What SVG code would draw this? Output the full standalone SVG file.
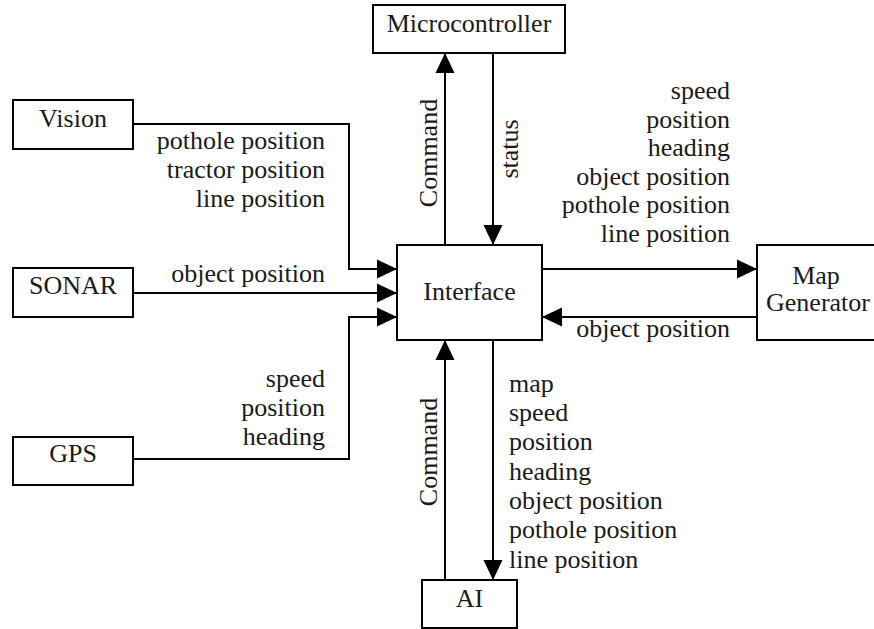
<svg xmlns="http://www.w3.org/2000/svg" width="874" height="629" viewBox="0 0 874 629">
<style>
.box{fill:#fff;stroke:#000;stroke-width:2}
.t{font-family:"Liberation Serif","Times New Roman",serif;font-size:26px;fill:#1a1a1a}
.m{text-anchor:middle}
.e{text-anchor:end}
.c{fill:none;stroke:#000;stroke-width:2}
</style>
<defs>
<marker id="ah" markerUnits="userSpaceOnUse" markerWidth="20" markerHeight="20" refX="20" refY="9.5" orient="auto" viewBox="0 0 20 19">
<path d="M0,0 L20,9.5 L0,19 z" fill="#000"/>
</marker>
</defs>
<rect width="874" height="629" fill="#fff"/>
<g id="connectors">
<path class="c" d="M445,245 V53" marker-end="url(#ah)"/>
<path class="c" d="M493,53 V245" marker-end="url(#ah)"/>
<path class="c" d="M133,124 H349 V269 H397" marker-end="url(#ah)"/>
<path class="c" d="M133,293 H397" marker-end="url(#ah)"/>
<path class="c" d="M133,459 H349 V317 H397" marker-end="url(#ah)"/>
<path class="c" d="M542,269 H757" marker-end="url(#ah)"/>
<path class="c" d="M757,317 H542" marker-end="url(#ah)"/>
<path class="c" d="M445,580 V340" marker-end="url(#ah)"/>
<path class="c" d="M493,340 V580" marker-end="url(#ah)"/>
<text class="t m" transform="translate(437,153) rotate(-90)">Command</text>
<text class="t m" transform="translate(518,149) rotate(-90)">status</text>
<text class="t m" transform="translate(437,452) rotate(-90)">Command</text>
<text class="t e" x="325" y="149">pothole position</text>
<text class="t e" x="325" y="178">tractor position</text>
<text class="t e" x="325" y="207">line position</text>
<text class="t e" x="325" y="282">object position</text>
<text class="t e" x="325" y="387">speed</text>
<text class="t e" x="325" y="416">position</text>
<text class="t e" x="325" y="445">heading</text>
<text class="t e" x="730" y="99">speed</text>
<text class="t e" x="730" y="128">position</text>
<text class="t e" x="730" y="156">heading</text>
<text class="t e" x="730" y="185">object position</text>
<text class="t e" x="730" y="213">pothole position</text>
<text class="t e" x="730" y="242">line position</text>
<text class="t e" x="730" y="337">object position</text>
<text class="t" x="509" y="392">map</text>
<text class="t" x="509" y="421">speed</text>
<text class="t" x="509" y="450">position</text>
<text class="t" x="509" y="480">heading</text>
<text class="t" x="509" y="509">object position</text>
<text class="t" x="509" y="538">pothole position</text>
<text class="t" x="509" y="568">line position</text>
</g>
<g id="microcontroller">
<rect class="box" x="373" y="5" width="192" height="48"/>
<text class="t m" x="469" y="32">Microcontroller</text>
</g>
<g id="vision">
<rect class="box" x="13" y="100" width="120" height="49"/>
<text class="t m" x="73" y="127">Vision</text>
</g>
<g id="sonar">
<rect class="box" x="13" y="268" width="120" height="49"/>
<text class="t m" x="73" y="294">SONAR</text>
</g>
<g id="gps">
<rect class="box" x="13" y="437" width="120" height="48"/>
<text class="t m" x="73" y="462">GPS</text>
</g>
<g id="interface">
<rect class="box" x="397" y="245" width="145" height="95"/>
<text class="t m" x="469.5" y="300">Interface</text>
</g>
<g id="map-generator">
<rect class="box" x="757" y="245" width="125" height="95"/>
<text class="t m" x="816" y="284">Map</text>
<text class="t m" x="818" y="311">Generator</text>
</g>
<g id="ai">
<rect class="box" x="422" y="580" width="95" height="48"/>
<text class="t m" x="469.5" y="607">AI</text>
</g>
</svg>
